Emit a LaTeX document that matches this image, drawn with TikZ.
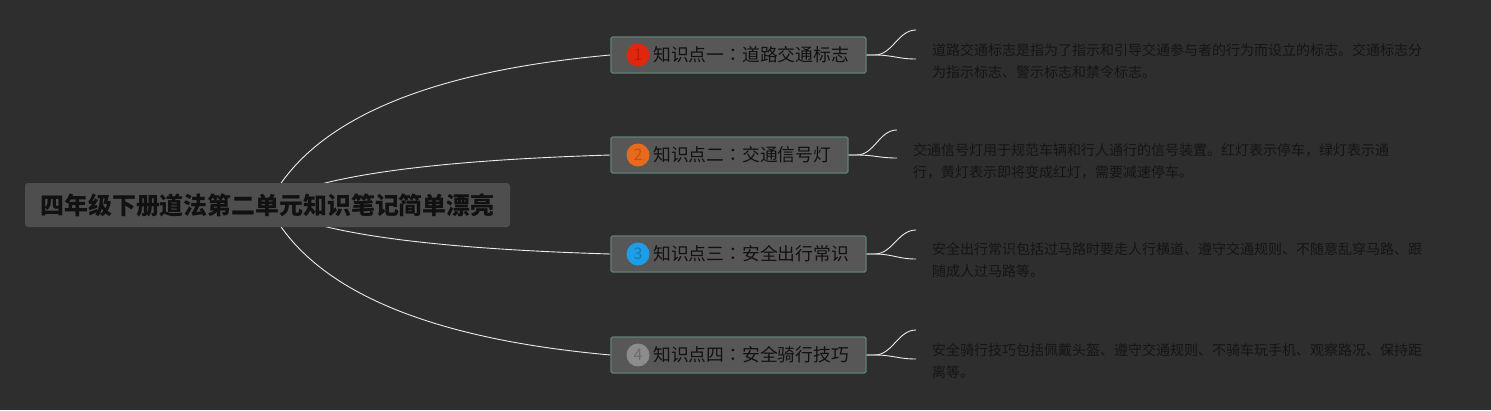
\documentclass[tikz,border=0pt]{standalone}
\usepackage{fontspec}
\newfontfamily\cjk{Noto Sans CJK SC}
\newfontfamily\cjktc{Noto Sans CJK TC}
\newcommand{\zcolon}{{\cjktc ：}}
\usetikzlibrary{backgrounds,calc}
\definecolor{bgc}{HTML}{2E2E2E}
\definecolor{rootfill}{HTML}{4E4E4E}
\definecolor{topicfill}{HTML}{575757}
\definecolor{topicline}{HTML}{5E8076}
\definecolor{ink}{HTML}{111111}
\definecolor{descink}{HTML}{151515}
\definecolor{cred}{HTML}{E2260E}
\definecolor{credn}{HTML}{B81E0A}
\definecolor{corange}{HTML}{E86A1C}
\definecolor{corangen}{HTML}{C25212}
\definecolor{cblue}{HTML}{1C9FE6}
\definecolor{cbluen}{HTML}{1679B8}
\definecolor{cgray}{HTML}{8C8C8C}
\definecolor{cgrayn}{HTML}{6A6A6A}
\tikzset{
  rootbox/.style={draw=none, fill=rootfill, rounded corners=3pt, minimum width=485pt, minimum height=44pt, inner sep=0pt, font=\cjk\bfseries\fontsize{23.9}{26}\selectfont, text=ink},
  topicbox/.style={draw=topicline, line width=1.2pt, fill=topicfill, rounded corners=1.5pt, minimum height=36pt, inner sep=0pt},
  topictext/.style={anchor=west, inner sep=0pt, font=\cjk\fontsize{17.8}{20}\selectfont, text=ink},
  numdot/.style={circle, minimum size=23pt, inner sep=0pt, font=\cjk\fontsize{16}{16}\selectfont},
  desctext/.style={anchor=west, inner sep=0pt, align=left, font=\cjk\fontsize{14}{22}\selectfont, text=descink},
  link/.style={draw=white!92!black, line width=0.9pt},
}
\begin{document}
\begin{tikzpicture}[x=1pt,y=-1pt]
\useasboundingbox (0,0) rectangle (1491,410);
\begin{pgfonlayer}{background}
\fill[bgc] (0,0) rectangle (1491,410);
\end{pgfonlayer}

% root
\node[rootbox] (root) at (267.5,205) {四年级下册道法第二单元知识笔记简单漂亮};
\coordinate (rc) at (268,205);

% topics
\node[topicbox, minimum width=255pt] (t1) at (738.5,55) {};
\node[topicbox, minimum width=237pt] (t2) at (729.5,155) {};
\node[topicbox, minimum width=255pt] (t3) at (738.5,254) {};
\node[topicbox, minimum width=255pt] (t4) at (738.5,355) {};

\node[numdot, fill=cred, text=credn] (n1) at (638,55) {1};
\node[numdot, fill=corange, text=corangen] (n2) at (638,155) {2};
\node[numdot, fill=cblue, text=cbluen] (n3) at (638,254) {3};
\node[numdot, fill=cgray, text=cgrayn] (n4) at (638,355) {4};

\node[topictext] (l1) at (653,55) {知识点一\zcolon 道路交通标志};
\node[topictext] (l2) at (653,155) {知识点二\zcolon 交通信号灯};
\node[topictext] (l3) at (653,254) {知识点三\zcolon 安全出行常识};
\node[topictext] (l4) at (653,355) {知识点四\zcolon 安全骑行技巧};

% descriptions
\node[desctext] (d1) at (932,61) {道路交通标志是指为了指示和引导交通参与者的行为而设立的标志。交通标志分\\为指示标志、警示标志和禁令标志。};
\node[desctext] (d2) at (913,161) {交通信号灯用于规范车辆和行人通行的信号装置。红灯表示停车，绿灯表示通\\行，黄灯表示即将变成红灯，需要减速停车。};
\node[desctext] (d3) at (932,260.5) {安全出行常识包括过马路时要走人行横道、遵守交通规则、不随意乱穿马路、跟\\随成人过马路等。};
\node[desctext] (d4) at (932,361) {安全骑行技巧包括佩戴头盔、遵守交通规则、不骑车玩手机、观察路况、保持距\\离等。};

% branch ends
\coordinate (e1a) at (916,30);  \coordinate (e1b) at (916,59);
\coordinate (e2a) at (897,130); \coordinate (e2b) at (897,158);
\coordinate (e3a) at (916,230); \coordinate (e3b) at (916,259);
\coordinate (e4a) at (916,330); \coordinate (e4b) at (916,359);

\begin{pgfonlayer}{background}
\draw[link] (rc) .. controls (309.3,121.7) and (423.7,71.7) .. (t1.west);
\draw[link] (rc) .. controls (309.3,177.3) and (423.7,160.7) .. (t2.west);
\draw[link] (rc) .. controls (309.3,232.1) and (423.7,248.5) .. (t3.west);
\draw[link] (rc) .. controls (309.3,288.3) and (423.7,338.3) .. (t4.west);
\end{pgfonlayer}

\foreach \t/\a/\b in {t1/e1a/e1b, t2/e2a/e2b, t3/e3a/e3b, t4/e4a/e4b}{
  \draw[link] (\t.east) -- ++(8,0) .. controls +(18,0) and ($(\a)+(-18,0)$) .. (\a);
  \draw[link] (\t.east) -- ++(8,0) .. controls +(18,0) and ($(\b)+(-18,0)$) .. (\b);
}
\end{tikzpicture}
\end{document}
